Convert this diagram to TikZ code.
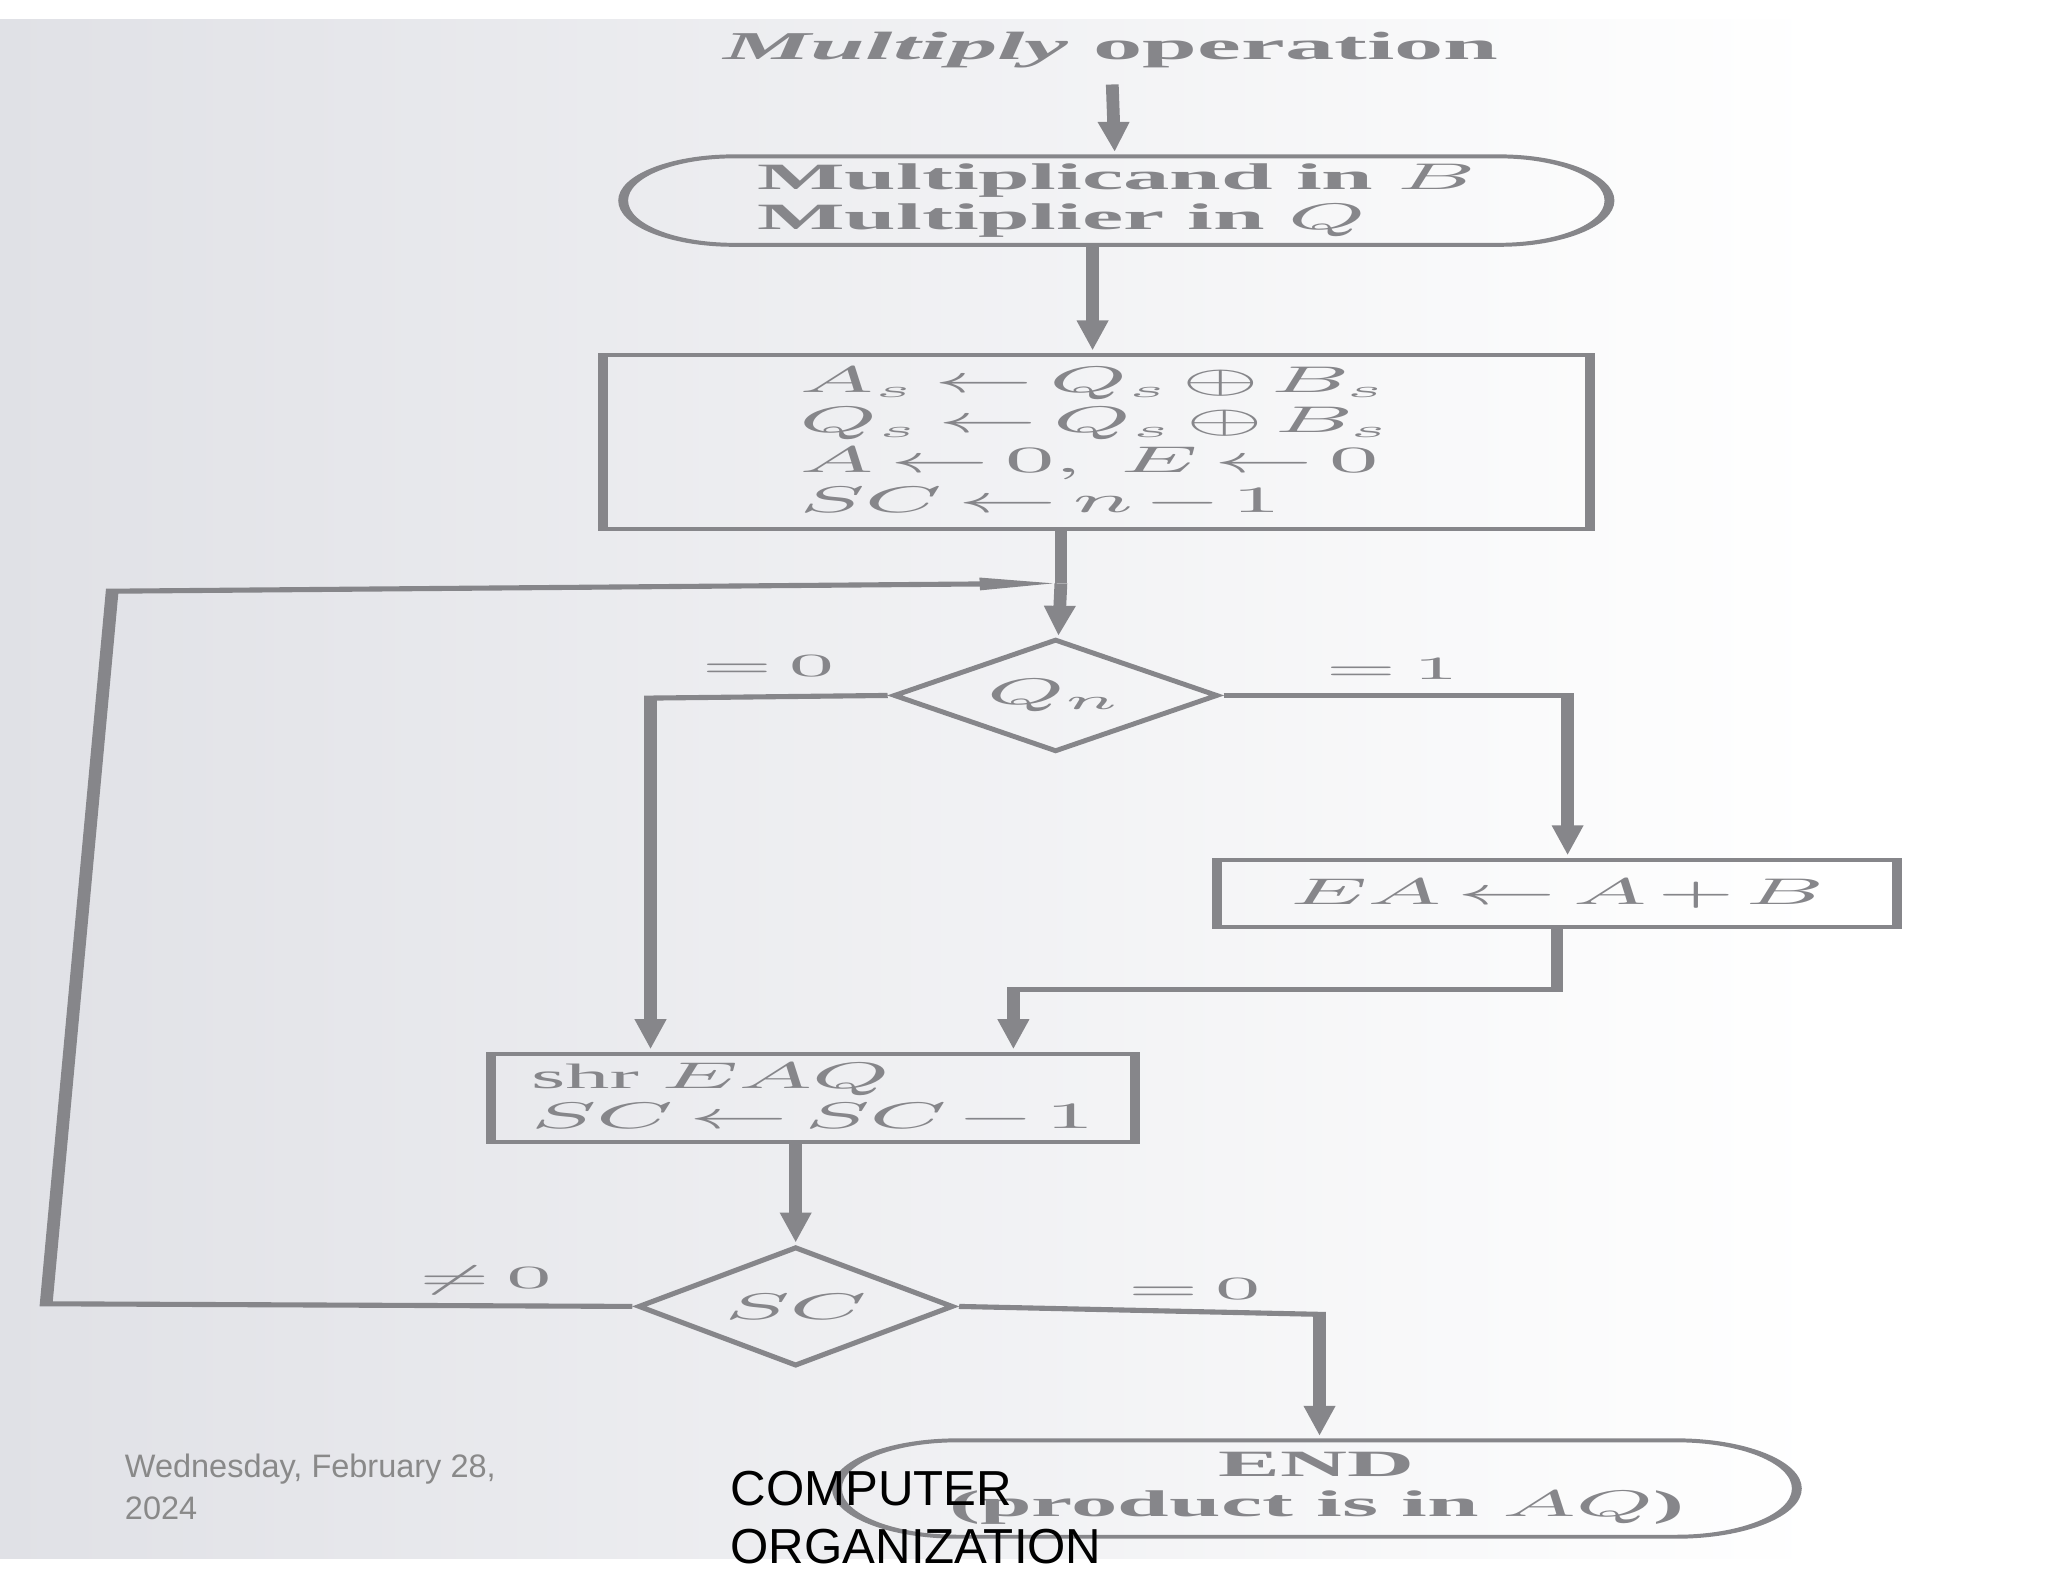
\documentclass[tikz,border=0pt]{standalone}
\usepackage{fontspec}
\setmainfont{Liberation Serif}
\newfontfamily\slidesans{Liberation Sans}
\usepackage{tikz}
\usetikzlibrary{shapes.geometric}
\usetikzlibrary{shapes.misc}
\usetikzlibrary{arrows.meta}

\definecolor{ink}{RGB}{134,134,138}
\definecolor{paper}{RGB}{224,225,230}
\definecolor{dategray}{RGB}{137,137,137}

% tighter spacing round relations and operators
\thickmuskip=3mu plus 2mu
\medmuskip=2mu plus 1mu

\begin{document}
\begin{tikzpicture}[x=0.01cm, y=-0.01cm]
    % Page and photographed sheet
    \useasboundingbox (0,0) rectangle (1552,1199);
    \fill[white] (0,0) rectangle (1552,1199);
    \shade[left color=paper, right color=white] (0,15) rectangle (1380,1181);

    % Flowchart, stretched sideways like the photo
    \begin{scope}[transform canvas={xscale=2.5}, x=0.004cm, y=-0.01cm,
            every node/.style={text=ink, font=\fontsize{8}{8.6}\selectfont},
            flowline/.style={draw=ink, line width=1.1pt},
            arr/.style={flowline, -{Triangle[length=7pt,width=2.4pt]}},
            termbox/.style={draw=ink, line width=0.85pt, rounded rectangle, inner sep=0pt, align=left},
            procbox/.style={draw=ink, line width=0.85pt, inner sep=0pt, align=left},
            decide/.style={draw=ink, line width=0.85pt, diamond, inner sep=0pt},
            lbl/.style={inner sep=0pt, font=\fontsize{7.5}{8}\selectfont}]

        \node[font=\fontsize{8.5}{9}\selectfont] (title) at (842,38) {\textbf{\textit{Multiply}} \textbf{operation}};

        % Start
        \node[termbox, minimum width=2.988cm, minimum height=0.67cm] (start) at (846,152)
            {\textbf{Multiplicand in} $B$\\ \textbf{Multiplier in} $Q$};

        % Initialise
        \node[procbox, font=\fontsize{7.6}{8.6}\selectfont, minimum width=2.988cm, minimum height=1.32cm] (init) at (831,335)
            {$A_s \leftarrow Q_s \oplus B_s$\\ $Q_s \leftarrow Q_s \oplus B_s$\\ $A \leftarrow 0,\ E \leftarrow 0$\\ $SC \leftarrow n - 1$};

        % Test Qn
        \node[decide, shape aspect=1.16, minimum width=0.988cm, minimum height=0.85cm] (qn) at (800,527) {$Q_n$};
        \node[lbl] (qzero) at (582,505) {$=0$};
        \node[lbl] (qone) at (1055,507) {$=1$};

        % Add
        \node[procbox, minimum width=2.06cm, minimum height=0.51cm] (ea) at (1180,677) {$EA \leftarrow A + B$};

        % Shift
        \node[procbox, font=\fontsize{7.6}{8.5}\selectfont, minimum width=1.952cm, minimum height=0.67cm] (shr) at (616,832)
            {shr $EAQ$\\ $SC \leftarrow SC - 1$};

        % Test SC
        \node[decide, shape aspect=1.07, minimum width=0.96cm, minimum height=0.90cm] (sc) at (603,990) {$SC$};
        \node[lbl] (scnz) at (368,970) {$\neq 0$};
        \node[lbl] (sczero) at (905,977) {$=0$};

        % End
        \node[termbox, align=center, minimum width=2.908cm, minimum height=0.73cm] (end) at (998,1128)
            {\textbf{END}\\ \textbf{(product is in} $AQ$\textbf{)}};

        \coordinate (downone) at (828,170);
        \coordinate (join) at (804,442);
        \coordinate (loopbot) at (35,988);
        \coordinate (looptop) at (85,448);
        \coordinate (qleft) at (493,529);
        \coordinate (qright) at (1188,527);
        \coordinate (merge) at (768,750);
        \coordinate (scright) at (1000,996);

        % Connectors
        \draw[arr] (title) -- (start);
        \draw[arr] (start.south -| downone) -- (init.north -| downone);
        \draw[flowline] (init.south -| join) -- (join);
        \draw[arr] (join) -- (qn);
        \draw[arr] (sc.west) -- (loopbot) -- (looptop) -- (join); % back to the test
        \draw[arr] (qn.west) -- (qleft) -- (qleft |- shr.north);
        \draw[arr] (qn.east) -- (qright) -- (qright |- ea.north);
        \draw[arr] (ea.south) |- (merge) -- (merge |- shr.north);
        \draw[arr] (shr.south -| sc.north) -- (sc.north);
        \draw[arr] (sc.east) -- (scright) -- (scright |- end.north);
    \end{scope}

    % Slide footer
    \node[anchor=west, align=left, inner sep=0pt, text=dategray, font=\slidesans\fontsize{7}{9.1}\selectfont] (date) at (94,1127)
        {Wednesday, February 28,\\2024};
    \node[anchor=west, align=left, inner sep=0pt, text=black, font=\slidesans\fontsize{10.6}{12.5}\selectfont] (course) at (553,1150)
        {COMPUTER\\ORGANIZATION};
\end{tikzpicture}
\end{document}
